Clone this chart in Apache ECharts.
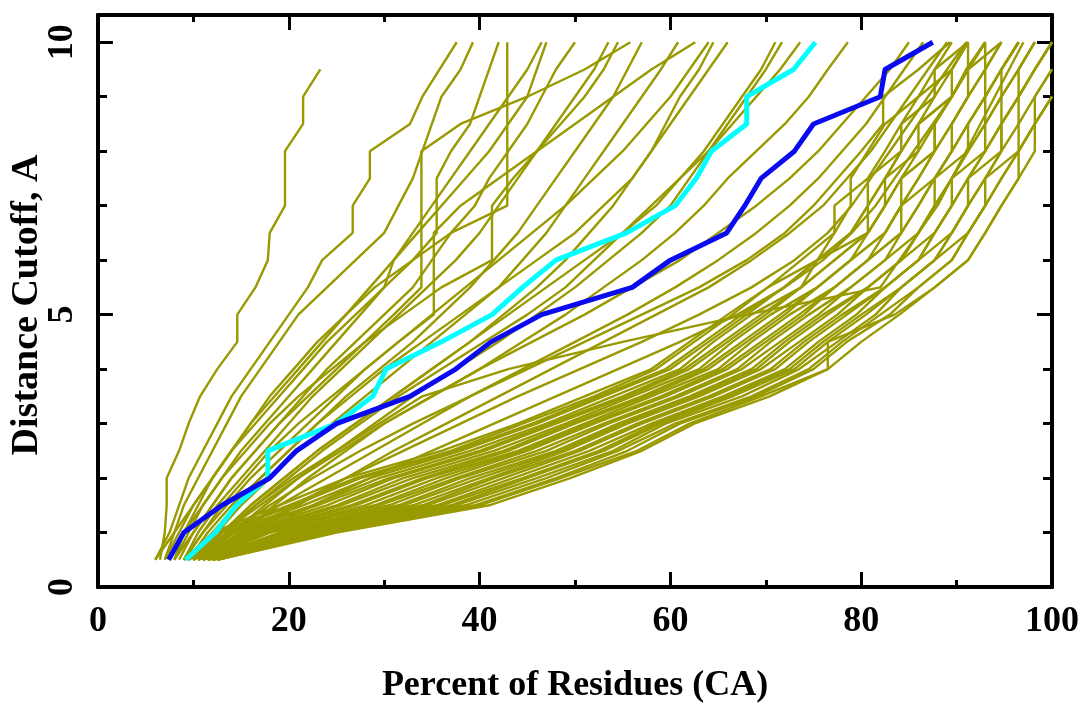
<!DOCTYPE html>
<html>
<head>
<meta charset="utf-8">
<script src="https://cdn.jsdelivr.net/npm/echarts@6/dist/echarts.min.js"></script>
<style>
  html, body { margin: 0; padding: 0; background: #fff; }
  #chart { width: 1084px; height: 710px; }
</style>
</head>
<body>
<div id="chart"></div>
<script>
// Distance cutoffs (y values, Angstrom) shared by every model curve
const cutoffs = [0.5,1,1.5,2,2.5,3,3.5,4,4.5,5,5.5,6,6.5,7,7.5,8,8.5,9,9.5,10];

// Percent of residues (x) at each cutoff
const upperModels = [
  [6.5,7,7.2,7.2,8.5,9.5,10.7,12.5,14.6,14.6,16.5,17.8,18,19.6,19.6,19.6,21.5,21.5,23.3],
  [6,7.5,8.5,9.5,11,12.5,14,16,18,20,22,23.5,26.7,26.7,28.5,28.5,32.7,34,35.8,37.6],
  [7,8,9,10.5,12,13.5,15,17,19,21,24,27,30,31.5,33,34,35,36,38,39.3],
  [7.5,9,10.5,12,14,16,18,20.5,23,26,29,33,37,42.9,42.9,42.9,42.9,42.9,42.9,42.9],
  [8,9.5,11,13,15,17.5,20,22.5,25,27.5,30,31,33,35,37,39,41,43,45,46.5],
  [8.5,10,12,14,16.5,19,21.5,24,27,30,33,35,37,39.5,41,43,45,46.5,48,50],
  [9,10.5,12.5,15,17.5,20,22.5,25.5,28.5,31.5,34.5,37.5,40,42,44,46,48,50,52,53.5],
  [8,10,12,14,16.5,19,22,25,28,31,33.9,33.9,33.9,33.9,33.9,33.9,38,45,51,55.8],
  [9.5,11.5,14,17,20,23,26,29.5,33,36,39,41.5,44,46,48,50,52,54,55.5,57],
  [10,12.5,15,18,21,24.5,28,31.5,35,38.5,42,44.5,47,49,51,53,55,57,59,60.8],
  [9,11,13,15.5,18,21,24.5,28,31.5,35.2,35.2,35.2,35.2,38,42,46,50,54,58,62.6],
  [10.5,13,16,19.5,23,27,31,35,39,42.5,46,49,51.5,54,56,58,59.5,61,63,64.5],
  [11,14,17.5,21,25,29,33,37.5,42,46,50,53.5,57,60,62,64,66,68,70,71.7],
  [10,13,16,19.5,23,27,31,35,39,43,47,51,55,58.5,61,64,66.5,69,71.5,73.6],
  [12,15,18.5,22,26,30,35,40,44.5,49,53,57,60.5,63.5,66,69,72,74.5,76.5,78.6],
  [7,8.5,10,12,14,16.5,19,21.5,24,27,30,33,35.5,35.5,35.5,37,39,40,41,42],
  [8,9,11,13,15.5,18,21,24.5,28,32,36,41.3,41.3,41.3,43.5,46,48.5,51,53,54.5],
  [6,8,10,12,14,16,18.5,21,23.5,26,28.5,31,33.5,36,38.5,41,43,45,46,47],
  [9,11,13.5,16,19,22,25,28,31.5,35,38.5,42,45.5,49,52,55,57.5,60,62,64],
  [10,12,14.5,17,20,23,26.5,30,34,38,42,46,50,53,56,58,60,62,64,66],
  [11,13.5,16.5,20,23.5,27.5,31.5,36,40.5,45,49,52,55,58,61,63.5,65.5,67.5,69.5,71]
];

const midModels = [
  [10,13,17,21,25.5,30,35,40,45.5,51,56,61,65,69,72.5,75.5,78,80.5,83,85],
  [11,15,19,24,29,34,39,44.5,50,55.5,60.5,65,69,72.5,75.5,78,80.5,82.5,84.5,86.5],
  [12,16,21,26,31,36.5,42,47.5,53,58.5,64,68.5,72.5,76,78.5,81,83,85,87,89],
  [10,14,18,22.5,27.5,33,39,45,51,57,63,68,72,75,77.5,80,82.3,82.3,86,89.3],
  [11,15.5,20.5,26,32,38,44,50.5,57,63,68.5,73,76.5,79,81,83,85,87,89,91],
  [12,17,22.5,28.5,35,41.5,48,54.5,61,67,72,76,79,81.5,83.5,85.5,87.5,89.5,91,93],
  [10,13,16.5,20.5,25,29.5,34,43,55,68,82,84,86,88,89.5,91,92.5,94,95.5,97]
];

const lowerModels = [
  [9,12,19,26,36,44,51,58,62,66,70.2,73.7,77.2,78.9,78.9,80.7,82.5,86,87.7,89.5],
  [9.5,12.5,20,27,37,44.5,52,58.5,62.5,66.5,70.2,75.4,77.2,77.2,80.7,82.5,84.2,86,89.5,91.2],
  [9,13,20.5,27.5,37.5,45.5,52.5,59.5,63.5,67.5,71.9,75.4,78.9,80.7,80.7,84.2,84.2,87.7,89.5,91.2],
  [10,13.5,21.5,28.5,38,46,53,60,64,68,71.9,75.4,78.9,80.7,82.5,84.2,86,87.7,87.7,91.2],
  [9.5,14,22.5,29.5,39,47,54,61,64.5,68.5,73.7,75.4,80.7,80.7,82.5,84.2,86,89.5,89.5,91.2],
  [9.5,14.5,23,30.5,40,47.5,55,61.5,65.5,69.5,73.7,77.2,80.7,82.5,82.5,86,86,89.5,91.2,93],
  [10,15,24,31,40.5,48,55.5,62,66,70,73.7,77.2,80.7,82.5,84.2,86,87.7,89.5,91.2,91.2],
  [10.5,15.5,25,32,41.5,49,56,63,66.5,70.5,75.4,78.9,80.7,82.5,84.2,87.7,87.7,89.5,91.2,93],
  [10,16,25.5,33,42.5,49.5,57,63.5,67.5,71.5,75.4,78.9,82.5,84.2,84.2,87.7,87.7,89.5,91.2,93],
  [10.5,16.5,26.5,34,43,50,57.5,64,68,72,75.4,78.9,82.5,84.2,86,87.7,89.5,91.2,91.2,94.7],
  [10.5,17,27,34.5,44,51,58,65,68.5,72.5,77.2,80.7,82.5,84.2,86,87.7,89.5,91.2,93,93],
  [11,17.5,28,35.5,44.5,51.5,59,65.5,69.5,73.5,77.2,80.7,84.2,84.2,87.7,89.5,89.5,91.2,93,94.7],
  [10.5,18,29,36.5,45,52,59.5,66,70,74,77.2,80.7,84.2,86,87.7,89.5,91.2,93,93,94.7],
  [11,18,29.5,37.5,46,53,60.5,67,70.5,74.5,78.9,82.5,84.2,86,87.7,89.5,91.2,93,94.7,96.5],
  [11,19,30.5,38,47,53.5,61,67.5,71.5,75.5,78.9,82.5,86,87.7,87.7,91.2,91.2,93,94.7,96.5],
  [11.5,19.5,31.5,39,48,54.5,62,68.5,72,76,80.7,84.2,86,87.7,89.5,91.2,93,93,94.7,96.5],
  [11,20,32,40,48.5,55,62.5,69,72.5,76.5,80.7,84.2,86,87.7,89.5,91.2,93,94.7,94.7,96.5],
  [11.5,20,33,41,49,55.5,63,69.5,73.5,77.5,80.7,84.2,87.7,89.5,89.5,93,93,94.7,96.5,98.2],
  [11.5,20.5,34,41.5,50,56.5,64,70.5,74,78,82.5,86,87.7,89.5,91.2,93,94.7,94.7,96.5,98.2],
  [11.5,21,34.5,42.5,50.5,57,64.5,71,74.5,78.5,82.5,86,87.7,89.5,91.2,93,94.7,96.5,96.5,98.2],
  [12,21.5,35.5,43.5,51.5,58,65.5,72,75.5,79.5,82.5,86,89.5,91.2,91.2,94.7,94.7,96.5,98.2,100],
  [11.5,22,36,44.5,52.5,58.5,66,72.5,76,80,84.2,87.7,89.5,91.2,93,94.7,94.7,96.5,98.2,100],
  [12,22.5,37,45,53,59,66.5,73,76.5,80.5,84.2,87.7,89.5,91.2,93,94.7,96.5,96.5,98.2,100],
  [12,23,37.5,46,54,59.5,67.5,73.5,77.5,81.5,84.2,87.7,91.2,93,93,96.5,96.5,98.2,100],
  [12.5,23.5,38.5,47,54.5,60.5,68.5,74.5,78,82,86,89.5,91.2,93,94.7,96.5,98.2,98.2,100],
  [12,24,39.5,48,55.5,61,69,75,78.5,83,86,89.5,91.2,93,94.7,96.5,98.2,100],
  [12.5,24.5,40,48.5,56.5,62,69.5,76.5,76.5,83.5,87.7,91.2,93,94.7,96.5,96.5,98.2,100],
  [12.5,25,41,49.5,57,62.5,70.4,76.5,80,84,87.7,91.2,93,94.7,96.5,98.2,98.2,100]
];

const cyanModel = [9.2,12.3,14.5,17.8,17.8,25,28.8,30.2,36,41.3,44.5,48,55.4,60.5,62.7,64.3,68,68,72.9,75.2];
const blueModel = [7.4,9,13,18,20.8,25,32.7,37.5,41.2,46.5,56,60,65.9,67.8,69.5,73,75,82,82.5,87.5];

// Axis ticks
const xTickValues = [0,20,40,60,80,100];
const yTickValues = [0,5,10];

const FONT = '"Liberation Serif", "DejaVu Serif", serif';
const OLIVE = '#999900';

function toPoints(xs) { return xs.map((x, i) => [x, cutoffs[i]]); }

const series = [];
[...upperModels, ...midModels, ...lowerModels].forEach((xs) => {
  series.push({
    type: 'line', data: toPoints(xs), symbol: 'none', silent: true,
    lineStyle: { color: OLIVE, width: 2.4 }, z: 2
  });
});
series.push({ type: 'line', data: toPoints(cyanModel), symbol: 'none', silent: true,
  lineStyle: { color: '#00ffff', width: 5 }, z: 3 });
series.push({ type: 'line', data: toPoints(blueModel), symbol: 'none', silent: true,
  lineStyle: { color: '#0a0aee', width: 5 }, z: 4 });

const black = '#000';
function xAx(pos, labels) {
  return {
    type: 'value', position: pos, min: 0, max: 100, interval: 20,
    axisLine: { show: true, onZero: false, lineStyle: { color: black, width: 4 } },
    axisTick: { show: true, inside: true, length: 15, lineStyle: { color: black, width: 3 } },
    minorTick: { show: true, splitNumber: 2, length: 7, lineStyle: { color: black, width: 3 } },
    splitLine: { show: false },
    axisLabel: labels ? {
      show: true, margin: 17, color: black, fontFamily: FONT, fontSize: 36, fontWeight: 'bold',
      formatter: (v) => xTickValues.includes(v) ? String(v) : ''
    } : { show: false }
  };
}
function yAx(pos, interval, len, labels) {
  return {
    type: 'value', position: pos, min: 0, max: 10.5, interval: interval,
    axisLine: { show: true, onZero: false, lineStyle: { color: black, width: 4 } },
    axisTick: { show: true, inside: true, length: len, lineStyle: { color: black, width: 3 } },
    splitLine: { show: false },
    axisLabel: labels ? {
      show: true, margin: 17, rotate: 90, color: black, fontFamily: FONT, fontSize: 36, fontWeight: 'bold',
      formatter: (v) => yTickValues.includes(v) ? String(v) : ''
    } : { show: false }
  };
}

const chart = echarts.init(document.getElementById('chart'), null, { renderer: 'canvas' });
chart.setOption({
  animation: false,
  backgroundColor: '#fff',
  grid: { left: 98, right: 32, top: 15, bottom: 123, containLabel: false },
  xAxis: [xAx('bottom', true), xAx('top', false)],
  yAxis: [yAx('left', 5, 15, true), yAx('left', 1, 9, false), yAx('right', 5, 15, false), yAx('right', 1, 9, false)],
  graphic: [
    { type: 'text', x: 575, y: 686, style: { text: 'Percent of Residues (CA)', fontFamily: FONT, fontSize: 36,
      fontWeight: 'bold', fill: black, textAlign: 'center', textVerticalAlign: 'middle' } },
    { type: 'text', x: 27, y: 305, rotation: Math.PI / 2, style: { text: 'Distance Cutoff, A', fontFamily: FONT,
      fontSize: 38, fontWeight: 'bold', fill: black, textAlign: 'center', textVerticalAlign: 'middle' } }
  ],
  series: series.map(s => Object.assign(s, { xAxisIndex: 0, yAxisIndex: 0 }))
});
</script>
</body>
</html>
